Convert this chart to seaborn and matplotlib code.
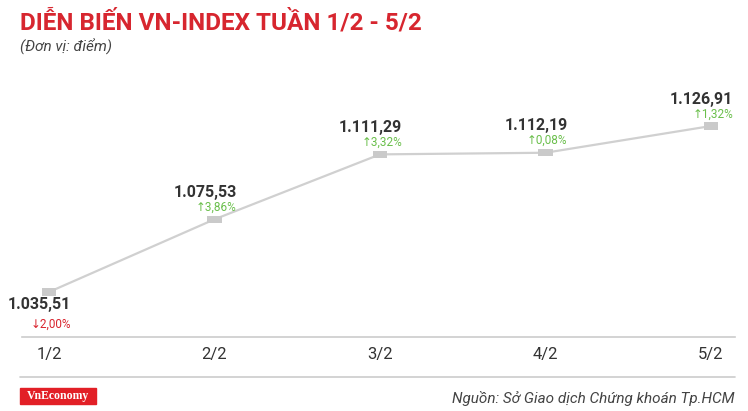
import matplotlib
matplotlib.use("Agg")
import matplotlib.pyplot as plt
import seaborn as sns
import pandas as pd
from matplotlib.lines import Line2D
from matplotlib.patches import Rectangle

days = ["1/2", "2/2", "3/2", "4/2", "5/2"]
index_values = [1035.51, 1075.53, 1111.29, 1112.19, 1126.91]
value_labels = ["1.035,51", "1.075,53", "1.111,29", "1.112,19", "1.126,91"]
change_labels = ["\u21932,00%", "\u21913,86%", "\u21913,32%", "\u21910,08%", "\u21911,32%"]
change_up = [False, True, True, True, True]

sns.set_style("white")
plt.rcParams['font.family'] = ['Roboto', 'DejaVu Sans']

W, H = 748, 411
fig = plt.figure(figsize=(W / 100, H / 100), dpi=100)
ax = fig.add_axes([22 / W, (H - 337) / H, 713 / W, (337 - 60) / H])

df = pd.DataFrame({"pos": range(len(days)), "value": index_values})
sns.lineplot(data=df, x="pos", y="value", ax=ax, color="#d0d0d0", linewidth=1.6)
rect_marker = [(-1, -0.5), (1, -0.5), (1, 0.5), (-1, 0.5), (-1, -0.5)]
sns.scatterplot(data=df, x="pos", y="value", ax=ax, marker=rect_marker, s=110,
                color="#cacaca", edgecolor="none", zorder=3)

ax.set_xlim(-0.163, 4.145)
ax.set_ylim(1010.73, 1163.26)
ax.set_xticks(range(len(days)))
ax.set_xticklabels(days, fontsize=12, color="#333333")
ax.tick_params(axis="x", length=0, pad=7)
ax.set_yticks([])
ax.set_xlabel("")
ax.set_ylabel("")
for s in ["top", "left", "right"]:
    ax.spines[s].set_visible(False)
ax.spines["bottom"].set_color("#cccccc")
ax.spines["bottom"].set_linewidth(1.2)

for i, v in enumerate(index_values):
    col = "#6abf4b" if change_up[i] else "#d9232d"
    if i == 0:
        dv, dp = -13, -32
    else:
        dv, dp = 27, 12
    ax.annotate(value_labels[i], (i, v), xytext=(22 * 0.72, dv * 0.72), textcoords="offset points",
                ha="right", va="center", fontsize=11.5, fontweight="bold", color="#333333")
    ax.annotate(change_labels[i], (i, v), xytext=(22 * 0.72, dp * 0.72), textcoords="offset points",
                ha="right", va="center", fontsize=8.5, color=col)

fig.text(20 / W, 1 - 22 / H, "DIỄN BIẾN VN-INDEX TUẦN 1/2 - 5/2", fontsize=17.5, fontweight="bold",
         color="#d7262f", ha="left", va="center", family=["Liberation Sans Narrow", "Roboto", "DejaVu Sans"])
fig.text(20 / W, 1 - 47 / H, "(Đơn vị: điểm)", fontsize=11, style="italic", color="#444444",
         ha="left", va="center")

fig.add_artist(Line2D([20 / W, 735 / W], [1 - 377 / H, 1 - 377 / H], color="#cccccc", linewidth=1.2))
fig.add_artist(Rectangle((20 / W, 1 - 404 / H), 76 / W, 16 / H, color="#e21f26", transform=fig.transFigure))
fig.text(58 / W, 1 - 396 / H, "VnEconomy", fontsize=8.5, fontweight="bold", color="white",
         ha="center", va="center", family=["Liberation Serif"])
fig.text(735 / W, 1 - 398 / H, "Nguồn: Sở Giao dịch Chứng khoán Tp.HCM", fontsize=11, style="italic",
         color="#444444", ha="right", va="center")

fig.savefig("out.png", dpi=100, facecolor="white")
